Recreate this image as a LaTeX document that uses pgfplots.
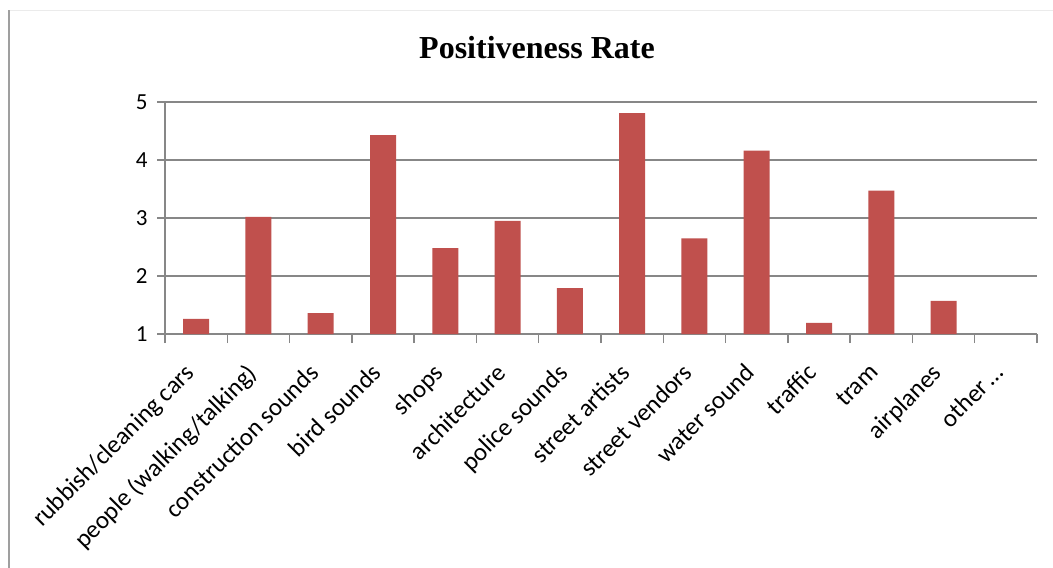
\documentclass[border=0pt]{standalone}
\usepackage{pgfplots}
\pgfplotsset{compat=1.18}
\usepackage{fontspec}
\setmainfont{Carlito}
\newfontfamily\titlefont{Liberation Serif}
\definecolor{barred}{HTML}{C0504D}
\definecolor{gridgray}{HTML}{878787}
\begin{document}
\begin{tikzpicture}[x=1pt,y=1pt]
\useasboundingbox (0,0) rectangle (1053,568);
\fill[white] (0,0) rectangle (1053,568);
\draw[color=gridgray!80, line width=2pt] (8.5,0) -- (8.5,558);
\draw[color=black!8, line width=1pt] (9.5,557.5) -- (1053,557.5);
\node[anchor=base, font=\titlefont\bfseries\fontsize{32}{36}\selectfont] at (537,509) {Positiveness Rate};
\begin{axis}[
  at={(165pt,234pt)}, anchor=south west,
  scale only axis, width=872pt, height=232pt,
  xmin=-0.5, xmax=13.5, ymin=1, ymax=5,
  ytick={1,2,3,4,5},
  ymajorgrids, grid style={gridgray, line width=1.5pt},
  axis x line*=bottom, axis y line*=left,
  axis line style={gridgray, line width=1.5pt},
  every tick/.style={gridgray, line width=1.5pt},
  tick align=outside, major tick length=8pt,
  xtick={0,1,2,3,4,5,6,7,8,9,10,11,12,13},
  xticklabels={rubbish/cleaning cars, people (walking/talking), construction sounds, bird sounds, shops, architecture, police sounds, street artists, street vendors, water sound, traffic, tram, airplanes, other\,\ldots},
  xtick style={draw=none},
  extra x ticks={-0.5,0.5,1.5,2.5,3.5,4.5,5.5,6.5,7.5,8.5,9.5,10.5,11.5,12.5,13.5},
  extra x tick labels={},
  extra x tick style={major tick length=9pt, xtick style={draw=gridgray, line width=1.5pt}},
  yticklabel style={font=\fontsize{23}{26}\selectfont, xshift=-6pt},
  xticklabel style={font=\fontsize{25}{28}\selectfont, anchor=north east, inner sep=0pt, xshift=-13pt, yshift=-20pt, rotate=45},
  /pgf/number format/assume math mode=true,
  ybar, bar width=26pt,
  clip=false,
]
\addplot[fill=barred, draw=none] coordinates {
(0,1.26) (1,3.02) (2,1.36) (3,4.43) (4,2.48) (5,2.95) (6,1.79) (7,4.81) (8,2.65) (9,4.16) (10,1.19) (11,3.47) (12,1.57)
};
\end{axis}
\end{tikzpicture}
\end{document}
